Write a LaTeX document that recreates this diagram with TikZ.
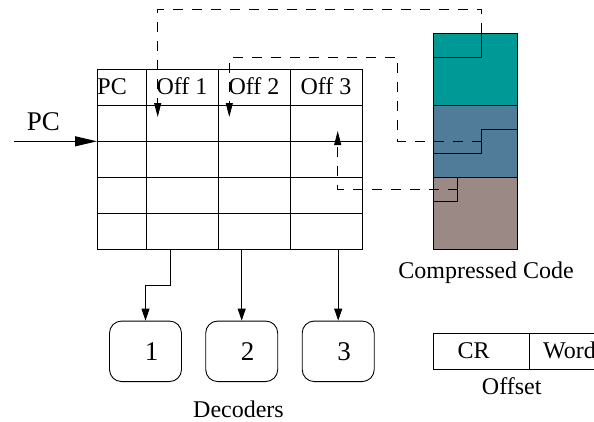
\documentclass[tikz,border=0pt]{standalone}
\usepackage{fontspec}
\setmainfont{Liberation Serif}
\usetikzlibrary{arrows.meta}
\definecolor{codeA}{RGB}{0,153,150}
\definecolor{codeB}{RGB}{80,123,153}
\definecolor{codeC}{RGB}{155,137,134}
\begin{document}
\begin{tikzpicture}[x=1bp,y=-1bp,line width=0.9bp,
  lbl/.style={font=\fontsize{24bp}{28bp}\selectfont,inner sep=0pt,anchor=base},
  bigl/.style={font=\fontsize{27bp}{31bp}\selectfont,inner sep=0pt,anchor=base},
  decbox/.style={draw,rounded corners=12bp,minimum width=72bp,minimum height=60.5bp,
    inner sep=0pt,font=\fontsize{27bp}{31bp}\selectfont},
  ptr/.style={dash pattern=on 10bp off 9bp,-{Triangle[length=14bp,width=7bp]}},
  feed/.style={-{Triangle[length=12bp,width=8bp]}},
  pcin/.style={-{Triangle[length=22bp,width=10bp]}}]
\useasboundingbox (0,0) rectangle (594,421);
\clip (0,0) rectangle (594,421);

% ---- lookup table ----
\draw (97,69.3) rectangle (362,249.3);
\foreach \y in {105.3,141.3,177.3,213.3} \draw (97,\y) -- (362,\y);
\foreach \x in {146,218,290} \draw (\x,69.3) -- (\x,249.3);
\node[lbl,anchor=base west] (hpc) at (97,94.5) {PC};
\node[lbl] (hoff1) at (182,94.5) {Off 1};
\node[lbl] (hoff2) at (254,94.5) {Off 2};
\node[lbl] (hoff3) at (326,94.5) {Off 3};

% ---- PC input ----
\node[bigl] (pclabel) at (43.5,130) {PC};
\coordinate (pcsrc) at (14,141.3);
\coordinate (pcdst) at (97,141.3);
\draw[pcin] (pcsrc) -- (pcdst);

% ---- compressed code memory ----
\fill[codeA] (433.3,33.3) rectangle (517.7,105.3);
\fill[codeB] (433.3,105.3) rectangle (517.7,177.3);
\fill[codeC] (433.3,177.3) rectangle (517.7,249.3);
\draw (433.3,33.3) rectangle (517.7,249.3);
\draw (433.3,105.3) -- (517.7,105.3);
\draw (433.3,177.3) -- (517.7,177.3);
% block boundaries inside memory
\draw (481.7,33.3) -- (481.7,57.3) -- (433.3,57.3);
\draw (517.7,129.3) -- (481.7,129.3) -- (481.7,153.3) -- (433.3,153.3);
\draw (457.7,177.3) -- (457.7,201.7) -- (433.3,201.7);
\node[lbl] (cclabel) at (486,278) {Compressed Code};

% ---- offset pointers ----
\coordinate (blkA) at (481.7,33.3);
\coordinate (blkB) at (481.7,141.3);
\coordinate (blkC) at (457.7,189.3);
\coordinate (off1) at (157.7,117);
\coordinate (off2) at (229.3,117);
\coordinate (off3) at (337.7,131);
\draw[ptr] (blkA) |- (157.7,9.3) -- (off1);
\draw[ptr] (blkB) -- (397.7,141.3) -- (397.7,57.3) -- (229.3,57.3) -- (off2);
\draw[ptr] (blkC) -- (337.7,189.3) -- (off3);

% ---- decoders ----
\node[decbox] (dec1) at (145.5,351.3) {\hspace*{12bp}1};
\node[decbox] (dec2) at (241.7,351.3) {\hspace*{12bp}2};
\node[decbox] (dec3) at (338.2,351.3) {\hspace*{12bp}3};
\node[lbl] (declabel) at (238.5,417) {Decoders};
\coordinate (t1) at (170,249.3);
\coordinate (t2) at (241.7,249.3);
\coordinate (t3) at (338.2,249.3);
\draw[feed] (t1) -- (170,285) -| (dec1.north);
\draw[feed] (t2) -- (dec2.north);
\draw[feed] (t3) -- (dec3.north);

% ---- offset format ----
\node[draw,minimum width=96bp,minimum height=36bp,inner sep=0pt,anchor=north west] (crbox) at (433.3,333.3) {};
\node[draw,minimum width=96bp,minimum height=36bp,inner sep=0pt,anchor=north west] (wordbox) at (529.3,333.3) {};
\node[lbl] (crtxt) at (473.7,358.3) {CR};
\node[lbl,anchor=base west] (wordtxt) at (542.7,358.3) {Word};
\node[lbl] (offlabel) at (511.7,394.5) {Offset};
\end{tikzpicture}
\end{document}
